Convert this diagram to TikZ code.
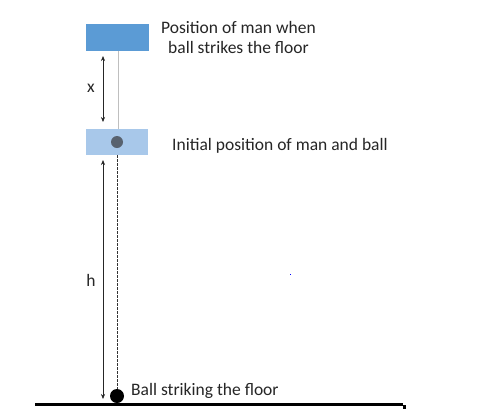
\documentclass[tikz,border=0pt]{standalone}
\usepackage{fontspec}
\setmainfont{Carlito}
\usetikzlibrary{arrows.meta}
\definecolor{manblue}{HTML}{5B9BD5}
\definecolor{lightman}{HTML}{A8C8EA}
\definecolor{ballgray}{HTML}{58626F}
\definecolor{guide}{HTML}{BFBFBF}
\tikzset{
  lbl/.style={font=\fontsize{17.5}{20}\selectfont, text=black!85, inner sep=0pt},
  dim/.style={{Stealth[length=5pt,width=4pt]}-{Stealth[length=5pt,width=4pt]}, line width=0.6pt, black!85},
}
\begin{document}
\begin{tikzpicture}[x=1pt,y=-1pt]
\useasboundingbox[fill=white] (0,0) rectangle (479,410);
% top box
\node[fill=manblue, minimum width=63pt, minimum height=27pt, inner sep=0pt, anchor=north west] (topbox) at (86,24) {};
% lower box
\node[fill=lightman, minimum width=62pt, minimum height=26pt, inner sep=0pt, anchor=north west] (lowbox) at (86,129) {};
\node[circle, fill=ballgray, minimum size=12pt, inner sep=0pt] (ball0) at (117,142) {};
% guide line
\draw[guide, line width=0.8pt] (118,51) -- (118,129);
% floor ball
\node[circle, fill=black, minimum size=14pt, inner sep=0pt] (ball1) at (117,396) {};
% dashed
\draw[black!80, dashed, dash pattern=on 2.5pt off 1.5pt, line width=0.5pt] (117,155) -- (ball1.north);
% floor
\coordinate (fl) at (35,404);
\coordinate (fr) at (403,404);
\draw[black, line width=3pt] (fl) -- (fr);
\fill[black] (403,405) rectangle (406,409);
% dimension arrows
\coordinate (xa) at (103,56);
\coordinate (xb) at (103,122);
\draw[dim] (xa) -- (xb);
\node[lbl] (xl) at (91,88) {x};
\coordinate (ha) at (103,160);
\coordinate (hb) at (103,399);
\draw[dim] (ha) -- (hb);
\node[lbl] (hl) at (91,280) {h};
% blue dot
\fill[blue] (289.5,273.5) rectangle (291,275);
% labels
\node[lbl, align=center, anchor=base] (t1) at (238.5,53) {Position of man when\\ ball strikes the floor};
\node[lbl, anchor=base west] (t2) at (172,150) {Initial position of man and ball};
\node[lbl, anchor=base west] (t3) at (131,395) {Ball striking the floor};
\end{tikzpicture}
\end{document}
